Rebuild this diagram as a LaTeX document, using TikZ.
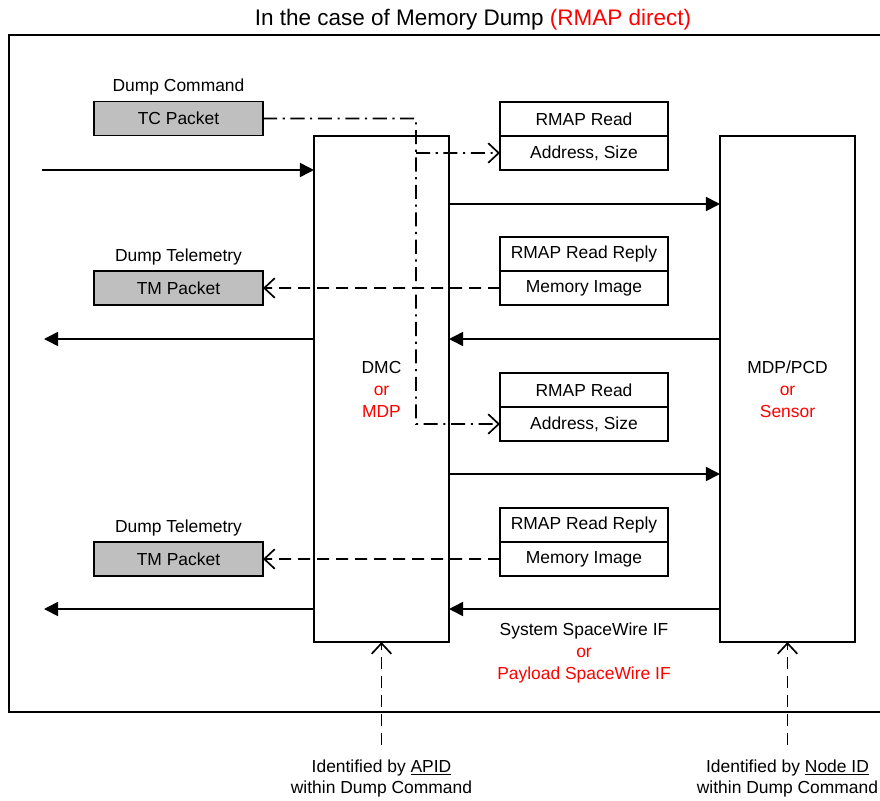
\documentclass[tikz,border=0pt]{standalone}
\usepackage{fontspec}
\setmainfont{Liberation Sans}
\usetikzlibrary{arrows.meta,positioning}
\tikzset{
  txt/.style={font=\fontsize{12.4}{15.6}\selectfont,align=center,inner sep=0pt},
  blk/.style={txt,draw,line width=1.2pt,outer sep=0pt},
  pkt/.style={blk,fill=black!25,minimum width=4.225cm,minimum height=0.85cm},
  fld/.style={blk,minimum width=4.2cm,minimum height=0.85cm},
  unit/.style={blk,minimum width=3.375cm,minimum height=12.65cm},
  link/.style={line width=1.2pt,-{Triangle[length=10pt,width=10pt]}},
  reply/.style={line width=1.2pt,dash pattern=on 8.5pt off 5pt,-{Straight Barb[length=7.5pt,width=14pt,line width=1.2pt]}},
  cmd/.style={line width=1.2pt,dash pattern=on 10pt off 4pt on 1.5pt off 4pt,-{Straight Barb[length=7.5pt,width=14pt,line width=1.2pt]}},
}

\begin{document}
\begin{tikzpicture}[x=0.025cm,y=-0.025cm]
	%%%%% START %%%%%
	\def\xl{381.5}
	\def\xr{787.5}
	\def\xf{584}
	\def\xp{178.5}
	\def\xv{416}
	
	\clip (0,0) rectangle (880,801);
	
	\node[font=\fontsize{16}{19}\selectfont,inner sep=0pt] (title) at (473,20) {In the case of Memory Dump \textcolor{red}{(RMAP direct)}};
	\draw[line width=1.2pt] (9,35) rectangle (900,712);
	
	% blocks
	\node[unit] (dmc) at (\xl,389) {DMC\\\textcolor{red}{or}\\\textcolor{red}{MDP}};
	\node[unit] (mdp) at (\xr,389) {MDP/PCD\\\textcolor{red}{or}\\\textcolor{red}{Sensor}};
	
	% packets
	\node[pkt] (tc) at (\xp,118.5) {TC Packet};
	\node[txt,above=4pt of tc] (tclbl) {Dump Command};
	\node[pkt] (tma) at (\xp,288) {TM Packet};
	\node[txt,above=4pt of tma] (tmalbl) {Dump Telemetry};
	\node[pkt] (tmb) at (\xp,559) {TM Packet};
	\node[txt,above=4pt of tmb] (tmblbl) {Dump Telemetry};
	
	% rmap frames
	\node[fld] (rda) at (\xf,119) {RMAP Read};
	\node[fld,below=0pt of rda] (rdab) {Address, Size};
	\node[fld] (rpa) at (\xf,254) {RMAP Read Reply};
	\node[fld,below=0pt of rpa] (rpab) {Memory Image};
	\node[fld] (rdb) at (\xf,390) {RMAP Read};
	\node[fld,below=0pt of rdb] (rdbb) {Address, Size};
	\node[fld] (rpb) at (\xf,525) {RMAP Read Reply};
	\node[fld,below=0pt of rpb] (rpbb) {Memory Image};
	
	% spacewire links
	\coordinate (inp) at (42,170);
	\coordinate (outa) at (44,339);
	\coordinate (outb) at (44,609);
	\draw[link] (inp) -- (inp -| dmc.west);
	\draw[link] (dmc.west |- outa) -- (outa);
	\draw[link] (dmc.west |- outb) -- (outb);
	\draw[link] (dmc.east |- 0,204) -- (mdp.west |- 0,204);
	\draw[link] (mdp.west |- 0,339) -- (dmc.east |- 0,339);
	\draw[link] (dmc.east |- 0,474) -- (mdp.west |- 0,474);
	\draw[link] (mdp.west |- 0,609) -- (dmc.east |- 0,609);
	
	% command and replies
	\draw[cmd] (tc.east) -- (\xv,118.5) -- (\xv,424) -- (rdbb.west);
	\draw[cmd] (\xv,153) -- (rdab.west);
	\draw[reply] (rpab.west) -- (tma.east);
	\draw[reply] (rpbb.west) -- (tmb.east);
	
	\node[txt] (ifl) at (\xf,653) {System SpaceWire IF\\\textcolor{red}{or}\\\textcolor{red}{Payload SpaceWire IF}};
	
	% identification
	\node[txt] (apid) at (\xl,778.5) {Identified by \underline{APID}\\within Dump Command};
	\node[txt] (nid) at (\xr,778.5) {Identified by \underline{Node ID}\\within Dump Command};
	\draw[reply] (\xl,745) -- (dmc.south);
	\draw[reply] (\xr,745) -- (mdp.south);
	%%%%% END %%%%%
\end{tikzpicture}
\end{document}
